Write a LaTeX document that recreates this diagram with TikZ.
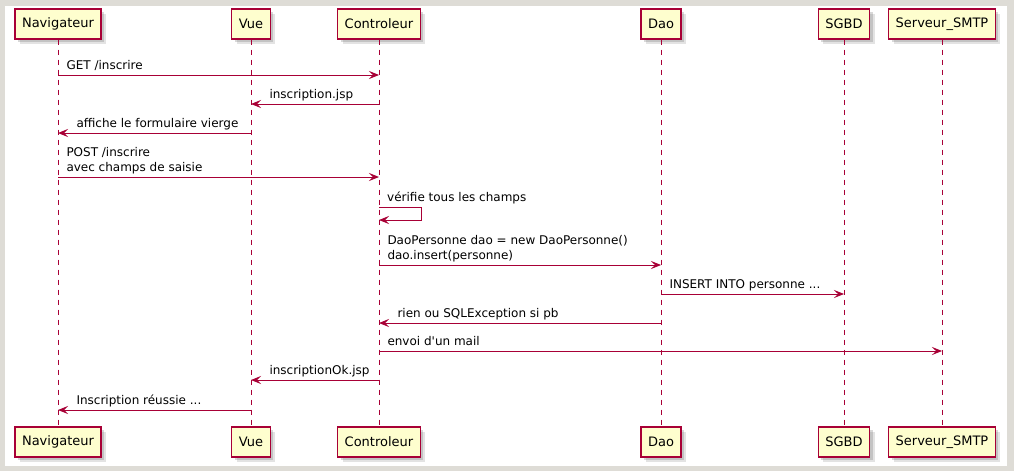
\documentclass[tikz,border=0pt]{standalone}
\usepackage{fontspec}
\setmainfont{DejaVu Sans}
\usepackage{xcolor}
\usetikzlibrary{arrows.meta,positioning,calc,shadows}
\definecolor{umlred}{HTML}{A80036}
\definecolor{umlfill}{HTML}{FEFECE}
\definecolor{frame}{RGB}{222,220,214}

\begin{document}
\begin{tikzpicture}[x=1pt,y=-1pt]

	\tikzset{
	actor/.style={draw=umlred, fill=umlfill, line width=1.2pt, minimum height=30pt, inner xsep=7pt,
		font=\fontsize{13}{15}\selectfont, text=black,
		drop shadow={shadow xshift=5pt, shadow yshift=-5pt, opacity=.18, fill=black!60},
		drop shadow={shadow xshift=3pt, shadow yshift=-3pt, opacity=.25, fill=black!60}},
	life/.style={umlred, dash pattern=on 5pt off 5pt, line width=0.9pt},
	msg/.style={umlred, line width=1pt, -{Stealth[length=10pt,width=8pt,inset=4pt]}},
	lbl/.style={anchor=south west, inner sep=0pt, text depth=0pt, align=left, text=black,
		font=\fontsize{12}{15}\selectfont}
}

% background
\fill[frame] (0,0) rectangle (1014,471);
\fill[white] (5,6) rectangle (1007,466);

% participants
\node[actor](navT) at (58,24){Navigateur};
\node[actor](vueT) at (251,24){Vue};
\node[actor](ctlT) at (379,24){Controleur};
\node[actor](daoT) at (661,24){Dao};
\node[actor](dbT) at (844,24){SGBD};
\node[actor](smtpT) at (942,24){Serveur\_SMTP};

\node[actor](navB) at (58,442){Navigateur};
\node[actor](vueB) at (251,442){Vue};
\node[actor](ctlB) at (379,442){Controleur};
\node[actor](daoB) at (661,442){Dao};
\node[actor](dbB) at (844,442){SGBD};
\node[actor](smtpB) at (942,442){Serveur\_SMTP};

\draw[life] (navT.south) -- (navB.north);
\draw[life] (vueT.south) -- (vueB.north);
\draw[life] (ctlT.south) -- (ctlB.north);
\draw[life] (daoT.south) -- (daoB.north);
\draw[life] (dbT.south) -- (dbB.north);
\draw[life] (smtpT.south) -- (smtpB.north);

% message levels
\coordinate (m1) at (0,75);
\coordinate (m2) at (0,104);
\coordinate (m3) at (0,133);
\coordinate (m4) at (0,177);
\coordinate (m5) at (0,207);
\coordinate (m5b) at (0,220);
\coordinate (m6) at (0,265);
\coordinate (m7) at (0,294);
\coordinate (m8) at (0,323);
\coordinate (m9) at (0,351);
\coordinate (m10) at (0,380);
\coordinate (m11) at (0,410);

\draw[msg] (navT |- m1) -- (ctlT |- m1) node[lbl, at start, xshift=8pt, yshift=5pt] {GET /inscrire};
\draw[msg] (ctlT |- m2) -- (vueT |- m2) node[lbl, at end, xshift=18pt, yshift=5pt] {inscription.jsp};
\draw[msg] (vueT |- m3) -- (navT |- m3) node[lbl, at end, xshift=18pt, yshift=5pt] {affiche le formulaire vierge};
\draw[msg] (navT |- m4) -- (ctlT |- m4) node[lbl, at start, xshift=8pt, yshift=5pt] {POST /inscrire\\avec champs de saisie};
\draw[msg] (ctlT |- m5) -| ($(ctlT |- m5b)+(42,0)$) -- (ctlT |- m5b);
\node[lbl] at ($(ctlT |- m5)+(8,-5)$) {vérifie tous les champs};
\draw[msg] (ctlT |- m6) -- (daoT |- m6) node[lbl, at start, xshift=8pt, yshift=5pt] {DaoPersonne dao = new DaoPersonne()\\dao.insert(personne)};
\draw[msg] (daoT |- m7) -- (dbT |- m7) node[lbl, at start, xshift=8pt, yshift=5pt] {INSERT INTO personne ...};
\draw[msg] (daoT |- m8) -- (ctlT |- m8) node[lbl, at end, xshift=18pt, yshift=5pt] {rien ou SQLException si pb};
\draw[msg] (ctlT |- m9) -- (smtpT |- m9) node[lbl, at start, xshift=8pt, yshift=5pt] {envoi d\textquotesingle un mail};
\draw[msg] (ctlT |- m10) -- (vueT |- m10) node[lbl, at end, xshift=18pt, yshift=5pt] {inscriptionOk.jsp};
\draw[msg] (vueT |- m11) -- (navT |- m11) node[lbl, at end, xshift=18pt, yshift=5pt] {Inscription réussie ...};

\end{tikzpicture}
\end{document}
